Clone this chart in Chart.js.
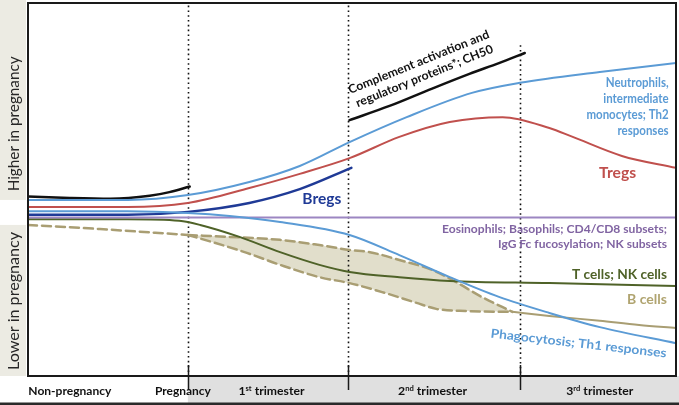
<!DOCTYPE html>
<html><head><meta charset="utf-8">
<script src="https://cdn.jsdelivr.net/npm/chart.js@4.4.1/dist/chart.umd.min.js"></script>
<style>html,body{margin:0;padding:0;background:#fff;overflow:hidden}canvas{display:block}</style>
</head><body>
<canvas id="c" width="679" height="405"></canvas>
<script>
// x: weeks from start of pregnancy; y: relative level (0 = lowest, 100 = highest)
const periodLabels = ['Non-pregnancy', 'Pregnancy', '1st trimester', '2nd trimester', '3rd trimester'];
const periodLabelWeeks = [-9.6, -0.4, 6.8, 19.9, 33.5];
const periodBoundaries = [0, 13, 27];
const sideLabels = ['Higher in pregnancy', 'Lower in pregnancy'];
const sideLabelLevels = [67.6, 20.1];

const complementPreWeeks  = [-13, -9.6, -6.3, -3.1, -1.5, 0.15];
const complementPreLevels = [48.1, 47.7, 47.5, 48.3, 49.3, 50.8];
const complementWeeks  = [13.15, 16.4, 19.6, 22.9, 25.3, 27.4];
const complementLevels = [68.6, 72.4, 76.7, 81.0, 83.9, 86.6];
const neutrophilWeeks  = [-13, -4.9, 0, 5.0, 9.1, 13.15, 17.8, 23.1, 27.0, 33.5, 39.7];
const neutrophilLevels = [47.2, 47.2, 48.5, 52.0, 56.3, 62.7, 69.4, 75.9, 78.6, 81.5, 83.9];
const tregWeeks  = [-13, -4.9, 0, 5.0, 9.1, 13.15, 17.2, 21.3, 25.6, 29.4, 31.3, 35.3, 39.7];
const tregLevels = [45.3, 45.3, 46.4, 50.4, 54.2, 58.4, 64.1, 68.1, 69.4, 66.5, 64.1, 59.0, 55.8];
const bregWeeks  = [-13, -4.9, 0, 5.0, 9.1, 13.3];
const bregLevels = [43.2, 43.2, 44.0, 46.4, 50.1, 55.8];
const phagoWeeks  = [-13, -4.9, 0, 3.4, 7.5, 13.15, 17.2, 21.3, 25.3, 29.4, 33.5, 39.7];
const phagoLevels = [44.2, 44.2, 43.7, 42.9, 41.3, 37.8, 32.4, 26.5, 21.2, 16.9, 13.1, 8.8];
const eosinoWeeks  = [-13, 39.7];
const eosinoLevels = [42.5, 42.5];
const tCellWeeks  = [-13, -4.9, -0.7, 1.0, 4.2, 7.5, 10.7, 13.15, 17.2, 21.3, 29.4, 39.7];
const tCellLevels = [42.0, 42.0, 41.6, 40.5, 37.3, 33.2, 29.8, 27.9, 26.5, 25.5, 24.9, 24.1];
const bCellPreWeeks  = [-13, -7.15, 0];
const bCellPreLevels = [40.5, 39.4, 37.8];
const bCellUpperWeeks  = [0, 3.4, 7.5, 10.7, 13.15, 14.8, 17.2, 19.9, 21.8, 23.9, 26.4];
const bCellUpperLevels = [37.8, 37.3, 36.5, 35.1, 33.8, 33.2, 31.1, 28.4, 25.2, 21.2, 17.2];
const bCellLowerWeeks  = [0, 2.0, 4.8, 7.5, 10.7, 13.15, 15.8, 18.6, 20.2, 22.65, 26.4];
const bCellLowerLevels = [37.8, 35.9, 33.0, 29.8, 26.5, 24.9, 22.5, 19.6, 18.0, 17.4, 17.2];
const bCellLateWeeks  = [26.4, 29.4, 33.5, 36.7, 39.7];
const bCellLateLevels = [17.2, 16.1, 14.8, 13.7, 12.9];

const pts = (xs, ys) => xs.map((x, i) => ({x, y: ys[i]}));

const BLUE = '#5b9bd5', RED = '#c0504d', NAVY = '#1f3a96', PURPLE = '#9c86c2',
      GREEN = '#4f6228', KHAKI = '#a99e73', BLACK = '#111111';

function line(data, color, width, extra) {
  return Object.assign({data, borderColor: color, borderWidth: width, showLine: true,
    pointRadius: 0, pointHitRadius: 0, cubicInterpolationMode: 'monotone', fill: false,
    borderCapStyle: 'round'}, extra || {});
}

const datasets = [
  line(pts(phagoWeeks, phagoLevels), BLUE, 2),
  line(pts(neutrophilWeeks, neutrophilLevels), BLUE, 2),
  line(pts(tregWeeks, tregLevels), RED, 2),
  line(pts(bregWeeks, bregLevels), NAVY, 2.5),
  line(pts(complementPreWeeks, complementPreLevels), BLACK, 2.5),
  line(pts(complementWeeks, complementLevels), BLACK, 2.5),
  line(pts(eosinoWeeks, eosinoLevels), PURPLE, 2),
  line(pts(tCellWeeks, tCellLevels), GREEN, 2),
  line(pts(bCellUpperWeeks, bCellUpperLevels), KHAKI, 2.5,
       {borderDash: [9, 5], fill: '+1', backgroundColor: 'rgba(196,189,151,0.5)'}),
  line(pts(bCellLowerWeeks, bCellLowerLevels), KHAKI, 2.5, {borderDash: [9, 5]}),
  line(pts(bCellPreWeeks, bCellPreLevels), KHAKI, 2.5, {borderDash: [9, 5]}),
  line(pts(bCellLateWeeks, bCellLateLevels), KHAKI, 2)
];

const annotations = [
  {lines: ['Complement activation and', 'regulatory proteins*; CH50'], x: 19.0, y: 82.4, align: 'center',
   rot: -22, size: 12, color: BLACK, widths: [151, 147], lh: 15},
  {lines: ['Neutrophils,', 'intermediate', 'monocytes; Th2', 'responses'], x: 39.1, y: 72.3, align: 'right',
   size: 12.5, color: BLUE, scaleX: 0.92, lh: 15.9},
  {lines: ['Tregs'], x: 34.95, y: 54.7, align: 'center', size: 15.5, color: RED, widths: [37], lh: 0},
  {lines: ['Bregs'], x: 10.9, y: 47.45, align: 'center', size: 14.5, color: NAVY, widths: [39], lh: 0},
  {lines: ['Eosinophils; Basophils; CD4/CD8 subsets;', 'IgG Fc fucosylation; NK subsets'], x: 38.97, y: 37.36,
   align: 'right', size: 11.5, color: '#8064a2', widths: [225, 169], lh: 14.7},
  {lines: ['T cells; NK cells'], x: 38.97, y: 27.35, align: 'right', size: 13.5, color: GREEN, widths: [95], lh: 0},
  {lines: ['B cells'], x: 38.97, y: 20.56, align: 'right', size: 13.5, color: '#b0a470', widths: [40], lh: 0},
  {lines: ['Phagocytosis; Th1 responses'], x: 31.78, y: 8.85, align: 'center', rot: 6.5, size: 12.5,
   color: BLUE, widths: [177], lh: 0}
];

function drawBlock(ctx, chart, a) {
  const px = chart.scales.x.getPixelForValue(a.x), py = chart.scales.y.getPixelForValue(a.y);
  ctx.save();
  ctx.translate(px, py);
  if (a.rot) ctx.rotate(a.rot * Math.PI / 180);
  ctx.font = 'bold ' + a.size + 'px Lato';
  ctx.fillStyle = a.color;
  ctx.textBaseline = 'alphabetic';
  const n = a.lines.length;
  a.lines.forEach((t, i) => {
    const cy = (i - (n - 1) / 2) * a.lh + a.size * 0.36;
    const nat = ctx.measureText(t).width;
    const s = a.widths ? a.widths[i] / nat : (a.scaleX || 1);
    ctx.save();
    ctx.translate(0, cy);
    ctx.scale(s, 1);
    const ax = a.align === 'right' ? -nat : a.align === 'left' ? 0 : -nat / 2;
    ctx.fillText(t, ax, 0);
    ctx.restore();
  });
  ctx.restore();
}

function drawPeriod(ctx, label, cx, cy, size, width) {
  const m = label.match(/^(\d+)(st|nd|rd|th)(.*)$/);
  const parts = m ? [[m[1], false], [m[2], true], [m[3], false]] : [[label, false]];
  const fMain = 'bold ' + size + 'px Lato', fSup = 'bold ' + (size * 0.62) + 'px Lato';
  let total = 0;
  const ws = parts.map(p => { ctx.font = p[1] ? fSup : fMain; const w = ctx.measureText(p[0]).width; total += w; return w; });
  const s = width / total;
  ctx.save();
  ctx.translate(cx, cy + size * 0.36);
  ctx.scale(s, 1);
  ctx.fillStyle = '#111';
  ctx.textBaseline = 'alphabetic';
  let x = -total / 2;
  parts.forEach((p, i) => {
    ctx.font = p[1] ? fSup : fMain;
    ctx.fillText(p[0], x, p[1] ? -size * 0.38 : 0);
    x += ws[i];
  });
  ctx.restore();
}

const periodWidths = [83, 56, 66, 69, 67];
const boundaryTopLevels = [99.3, 99.3, 88.7];

const decor = {
  id: 'decor',
  beforeDraw(chart) {
    const {ctx, chartArea: ca, scales: {x, y}} = chart;
    ctx.save();
    ctx.fillStyle = '#ecebe3';
    ctx.fillRect(0, 0, ca.left - 2, y.getPixelForValue(47.2));
    ctx.fillRect(0, y.getPixelForValue(40.5), ca.left - 2, ca.bottom - y.getPixelForValue(40.5));
    const gx = x.getPixelForValue(periodBoundaries[0]);
    ctx.fillStyle = '#e0e0e0';
    ctx.fillRect(gx, ca.bottom, chart.width - gx, chart.height - ca.bottom);
    ctx.restore();
  },
  beforeDatasetsDraw(chart) {
    const {ctx, chartArea: ca, scales: {x, y}} = chart;
    ctx.save();
    ctx.strokeStyle = '#111';
    ctx.lineWidth = 1.6;
    ctx.setLineDash([1.6, 3.2]);
    periodBoundaries.forEach((b, i) => {
      const px = Math.round(x.getPixelForValue(b)) + 0.5;
      ctx.beginPath();
      ctx.moveTo(px, y.getPixelForValue(boundaryTopLevels[i]));
      ctx.lineTo(px, ca.bottom);
      ctx.stroke();
    });
    ctx.restore();
  },
  afterDraw(chart) {
    const {ctx, chartArea: ca, scales: {x, y}} = chart;
    ctx.save();
    ctx.strokeStyle = '#1a1a1a';
    ctx.lineWidth = 2;
    ctx.strokeRect(ca.left, ca.top, ca.right - ca.left, ca.bottom - ca.top);
    ctx.fillStyle = '#2a2a2a';
    ctx.fillRect(0, chart.height - 2.5, chart.width, 2.5);
    ctx.lineWidth = 1.5;
    periodBoundaries.forEach(b => {
      const px = Math.round(x.getPixelForValue(b)) + 0.5;
      ctx.beginPath();
      ctx.moveTo(px, ca.bottom - 11);
      ctx.lineTo(px, ca.bottom + 14);
      ctx.stroke();
    });
    ctx.restore();
    periodLabels.forEach((t, i) => drawPeriod(ctx, t, x.getPixelForValue(periodLabelWeeks[i]), ca.bottom + 15, 11, periodWidths[i]));
    const sideWidths = [135, 138];
    sideLabels.forEach((t, i) => {
      ctx.save();
      ctx.translate(ca.left / 2, y.getPixelForValue(sideLabelLevels[i]));
      ctx.rotate(-Math.PI / 2);
      ctx.font = '14.5px Lato';
      ctx.fillStyle = '#262626';
      const nat = ctx.measureText(t).width;
      ctx.scale(sideWidths[i] / nat, 1);
      ctx.textBaseline = 'alphabetic';
      ctx.fillText(t, -nat / 2, 14.5 * 0.36);
      ctx.restore();
    });
    annotations.forEach(a => drawBlock(ctx, chart, a));
  }
};

new Chart(document.getElementById('c'), {
  type: 'scatter',
  data: {datasets},
  options: {
    responsive: false,
    animation: false,
    layout: {padding: {left: 28, right: 3, top: 3, bottom: 29}},
    scales: {
      x: {type: 'linear', min: -13, max: 39.7, display: false},
      y: {type: 'linear', min: 0, max: 100, display: false}
    },
    plugins: {
      legend: {display: false},
      tooltip: {enabled: false},
      filler: {drawTime: 'beforeDatasetsDraw'}
    }
  },
  plugins: [decor]
});
</script>
</body></html>
